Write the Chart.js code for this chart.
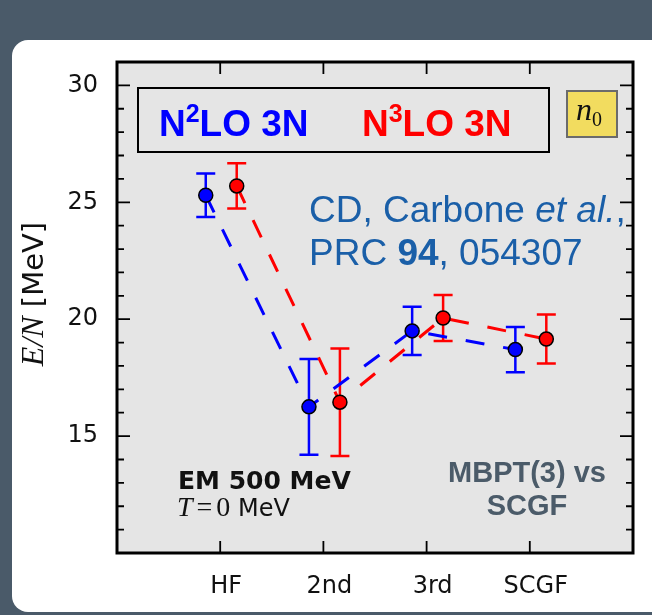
<!DOCTYPE html>
<html>
<head>
<meta charset="utf-8">
<script src="https://cdn.jsdelivr.net/npm/chart.js@4.4.0/dist/chart.umd.min.js"></script>
<style>
  html, body { margin: 0; padding: 0; background: #4a5a69; }
  canvas { display: block; }
</style>
</head>
<body>
<canvas id="energyChart" width="652" height="615"></canvas>
<script>
// many-body approximations along the x axis
const categories = ['HF', '2nd', '3rd', 'SCGF'];
// E/N [MeV] with N2LO three-nucleon forces
const n2loEnergy = [25.3, 16.25, 19.5, 18.7];
const n2loError = [0.93, 2.05, 1.03, 0.97];
// E/N [MeV] with N3LO three-nucleon forces
const n3loEnergy = [25.7, 16.45, 20.05, 19.15];
const n3loError = [0.97, 2.3, 0.98, 1.05];
// labelled y ticks
const yTickLabels = [15, 20, 25, 30];

// the two series sit a little left / right of each category
const n2loShift = -0.14;
const n3loShift = 0.16;

const BLUE = '#0000ff';
const RED = '#ff0000';
const SANS = '"Liberation Sans", Arial, sans-serif';
const DEJAVU = '"DejaVu Sans", sans-serif';
const SERIF = '"Liberation Serif", "DejaVu Serif", serif';

function toPoints(values, shift) {
  return values.map((v, i) => ({ x: i + 1 + shift, y: v }));
}

// draws a row of differently styled text pieces one after another
function drawRuns(ctx, x, y, runs, align) {
  let total = 0;
  runs.forEach(r => { ctx.font = r.font; r.w = ctx.measureText(r.t).width + (r.gap || 0); total += r.w; });
  let cx = align === 'center' ? x - total / 2 : x;
  runs.forEach(r => {
    ctx.font = r.font;
    ctx.fillStyle = r.color;
    ctx.fillText(r.t, cx, y + (r.dy || 0));
    cx += r.w;
  });
}

const decorations = {
  id: 'decorations',
  beforeDraw(chart) {
    const ctx = chart.ctx;
    const a = chart.chartArea;
    ctx.save();
    ctx.fillStyle = '#4a5a69';
    ctx.fillRect(0, 0, chart.width, chart.height);
    ctx.fillStyle = '#ffffff';
    ctx.beginPath();
    ctx.roundRect(12, 40, 700, 572, 16);
    ctx.fill();
    ctx.fillStyle = '#e5e5e5';
    ctx.fillRect(a.left, a.top, a.right - a.left, a.bottom - a.top);
    ctx.restore();
  },
  beforeDatasetsDraw(chart) {
    // vertical error bars with caps
    const ctx = chart.ctx;
    const xs = chart.scales.x, ys = chart.scales.y;
    const sets = [[n2loEnergy, n2loError, n2loShift, BLUE], [n3loEnergy, n3loError, n3loShift, RED]];
    ctx.save();
    ctx.lineWidth = 2.5;
    sets.forEach(([vals, errs, shift, col]) => {
      ctx.strokeStyle = col;
      vals.forEach((v, i) => {
        const px = xs.getPixelForValue(i + 1 + shift);
        const top = ys.getPixelForValue(v + errs[i]);
        const bot = ys.getPixelForValue(v - errs[i]);
        ctx.beginPath();
        ctx.moveTo(px, top); ctx.lineTo(px, bot);
        ctx.moveTo(px - 9.5, top); ctx.lineTo(px + 9.5, top);
        ctx.moveTo(px - 9.5, bot); ctx.lineTo(px + 9.5, bot);
        ctx.stroke();
      });
    });
    ctx.restore();
  },
  afterDraw(chart) {
    const ctx = chart.ctx;
    const a = chart.chartArea;
    const xs = chart.scales.x, ys = chart.scales.y;
    ctx.save();

    // inward ticks on all four sides
    ctx.strokeStyle = '#000';
    ctx.lineWidth = 1.8;
    ctx.beginPath();
    ys.ticks.forEach(t => {
      const py = ys.getPixelForValue(t.value);
      const len = t.value % 5 === 0 ? 13 : 7;
      ctx.moveTo(a.left, py); ctx.lineTo(a.left + len, py);
      ctx.moveTo(a.right, py); ctx.lineTo(a.right - len, py);
    });
    xs.ticks.forEach(t => {
      if (t.value < 1 || t.value > categories.length) return;
      const px = xs.getPixelForValue(t.value);
      ctx.moveTo(px, a.bottom); ctx.lineTo(px, a.bottom - 12);
      ctx.moveTo(px, a.top); ctx.lineTo(px, a.top + 12);
    });
    ctx.stroke();

    // axes frame
    ctx.lineWidth = 3;
    ctx.strokeRect(a.left, a.top, a.right - a.left, a.bottom - a.top);

    // y axis title
    ctx.save();
    ctx.translate(43, 294);
    ctx.rotate(-Math.PI / 2);
    ctx.textBaseline = 'alphabetic';
    drawRuns(ctx, 0, 0, [
      { t: 'E/N', font: 'italic 32px ' + SERIF, color: '#111' },
      { t: ' [MeV]', font: '29px ' + DEJAVU, color: '#111' }
    ], 'center');
    ctx.restore();

    // legend box
    ctx.fillStyle = '#e5e5e5';
    ctx.fillRect(138, 88, 411, 64);
    ctx.lineWidth = 2;
    ctx.strokeStyle = '#000';
    ctx.strokeRect(138, 88, 411, 64);
    ctx.textBaseline = 'alphabetic';
    drawRuns(ctx, 159, 136, [
      { t: 'N', font: 'bold 37px ' + SANS, color: BLUE },
      { t: '2', font: 'bold 25px ' + SANS, color: BLUE, dy: -14 },
      { t: 'LO 3N', font: 'bold 37px ' + SANS, color: BLUE }
    ]);
    drawRuns(ctx, 362, 136, [
      { t: 'N', font: 'bold 37px ' + SANS, color: RED },
      { t: '3', font: 'bold 25px ' + SANS, color: RED, dy: -14 },
      { t: 'LO 3N', font: 'bold 37px ' + SANS, color: RED }
    ]);

    // density tag
    ctx.fillStyle = '#f2dc5f';
    ctx.fillRect(567, 91, 50, 46);
    ctx.strokeStyle = '#6b6b6b';
    ctx.strokeRect(567, 91, 50, 46);
    drawRuns(ctx, 576, 120, [
      { t: 'n', font: 'italic 32px ' + SERIF, color: '#111' },
      { t: '0', font: '20px ' + SERIF, color: '#111', dy: 6 }
    ]);

    // reference
    const cite = '#1a5fa8';
    drawRuns(ctx, 309, 222, [
      { t: 'CD, Carbone ', font: '37px ' + SANS, color: cite },
      { t: 'et al.', font: 'italic 37px ' + SANS, color: cite },
      { t: ',', font: '37px ' + SANS, color: cite }
    ]);
    drawRuns(ctx, 309, 265, [
      { t: 'PRC ', font: '37px ' + SANS, color: cite },
      { t: '94', font: 'bold 37px ' + SANS, color: cite },
      { t: ', 054307', font: '37px ' + SANS, color: cite }
    ]);

    // interaction and temperature
    drawRuns(ctx, 178, 489, [
      { t: 'EM 500 MeV', font: 'bold 25px ' + DEJAVU, color: '#111' }
    ]);
    drawRuns(ctx, 177, 516, [
      { t: 'T', font: 'italic 28px ' + SERIF, color: '#111', gap: 4 },
      { t: '=', font: '28px ' + SERIF, color: '#111', gap: 4 },
      { t: '0', font: '28px ' + SERIF, color: '#111' },
      { t: ' MeV', font: '24px ' + DEJAVU, color: '#111' }
    ]);

    // method comparison note
    drawRuns(ctx, 527, 482, [
      { t: 'MBPT(3) vs', font: 'bold 29px ' + SANS, color: '#4b5b69' }
    ], 'center');
    drawRuns(ctx, 527, 515, [
      { t: 'SCGF', font: 'bold 29px ' + SANS, color: '#4b5b69' }
    ], 'center');

    ctx.restore();
  }
};

new Chart(document.getElementById('energyChart'), {
  type: 'line',
  data: {
    datasets: [{
      label: 'N2LO 3N',
      data: toPoints(n2loEnergy, n2loShift),
      borderColor: BLUE,
      borderWidth: 3,
      borderDash: [19, 19],
      pointRadius: 7,
      pointBackgroundColor: BLUE,
      pointBorderColor: '#000',
      pointBorderWidth: 1.5,
      tension: 0
    }, {
      label: 'N3LO 3N',
      data: toPoints(n3loEnergy, n3loShift),
      borderColor: RED,
      borderWidth: 3,
      borderDash: [19, 19],
      pointRadius: 7,
      pointBackgroundColor: RED,
      pointBorderColor: '#000',
      pointBorderWidth: 1.5,
      tension: 0
    }]
  },
  options: {
    responsive: false,
    animation: false,
    devicePixelRatio: 1,
    layout: { padding: { left: 0, right: 7, top: 62, bottom: 0 } },
    plugins: { legend: { display: false }, tooltip: { enabled: false } },
    scales: {
      x: {
        type: 'linear',
        min: 0,
        max: categories.length + 1,
        grid: { display: false, drawTicks: false },
        border: { display: false },
        afterFit(scale) { scale.height = 62; },
        ticks: {
          stepSize: 1,
          autoSkip: false,
          maxRotation: 0,
          padding: 19,
          labelOffset: 6,
          color: '#111',
          font: { family: 'DejaVu Sans', size: 24 },
          callback: v => categories[v - 1] || ''
        }
      },
      y: {
        min: 10,
        max: 31,
        grid: { display: false, drawTicks: false },
        border: { display: false },
        afterFit(scale) { scale.width = 117; },
        ticks: {
          stepSize: 1,
          autoSkip: false,
          padding: 19,
          color: '#111',
          font: { family: 'DejaVu Sans', size: 24 },
          callback: v => yTickLabels.includes(v) ? String(v) : ''
        }
      }
    }
  },
  plugins: [decorations]
});
</script>
</body>
</html>
